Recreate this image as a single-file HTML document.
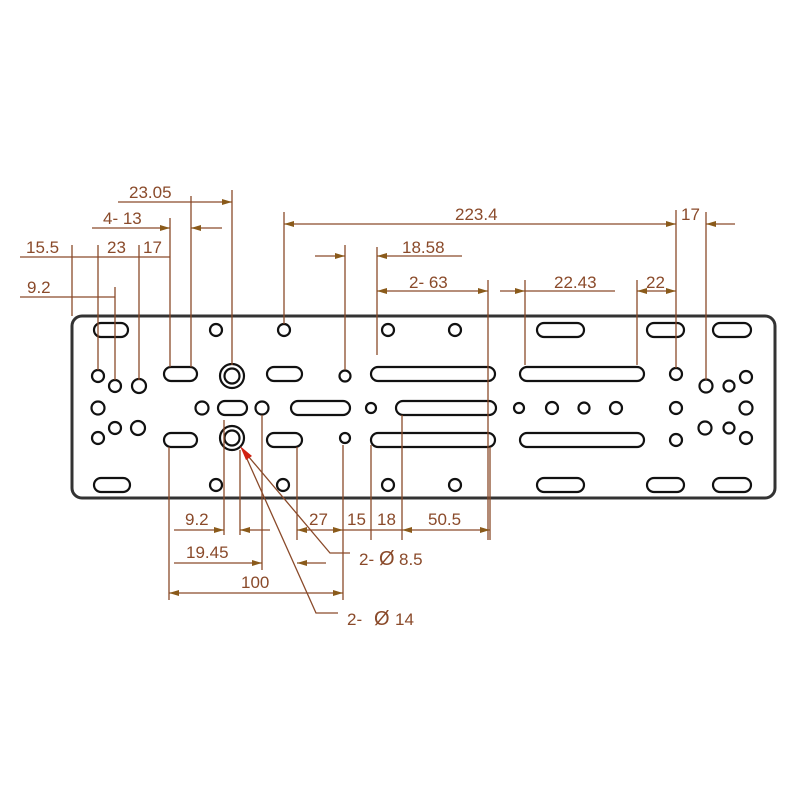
<!DOCTYPE html>
<html><head><meta charset="utf-8"><style>
html,body{margin:0;padding:0;background:#fff;width:800px;height:800px;overflow:hidden}
svg text{font-family:"Liberation Sans",sans-serif;fill:#8a4a2a;font-size:17px}
</style></head><body>
<svg width="800" height="800" viewBox="0 0 800 800" xmlns="http://www.w3.org/2000/svg">
<defs>
<marker id="a" viewBox="0 0 10 6" refX="10" refY="3" markerWidth="12" markerHeight="6" orient="auto-start-reverse" markerUnits="userSpaceOnUse"><path d="M0,0L10,3L0,6z" fill="#8a5a1a"/></marker>
</defs>
<rect x="72" y="316" width="703" height="182" rx="10" fill="none" stroke="#333" stroke-width="3"/>
<g fill="none" stroke="#111" stroke-width="2.2">
<rect x="94" y="323" width="34" height="14" rx="7"/>
<circle cx="216" cy="330" r="6"/><circle cx="284" cy="330" r="6"/>
<circle cx="388" cy="330" r="6"/><circle cx="455" cy="330" r="6"/>
<rect x="537" y="323" width="47" height="14" rx="7"/>
<rect x="647" y="323" width="37" height="14" rx="7"/>
<rect x="713" y="323" width="38" height="14" rx="7"/>
<circle cx="98" cy="376" r="6"/><circle cx="115" cy="386" r="6"/><circle cx="139" cy="386" r="7"/>
<rect x="164" y="367" width="33" height="14" rx="7"/>
<circle cx="232" cy="376" r="12"/><circle cx="232" cy="376" r="7.5"/>
<rect x="267" y="367" width="35" height="14" rx="7"/>
<circle cx="345" cy="376" r="5.5"/>
<rect x="371" y="367" width="124" height="14" rx="7"/>
<rect x="520" y="367" width="124" height="14" rx="7"/>
<circle cx="676" cy="374" r="6"/><circle cx="706" cy="386" r="6.5"/><circle cx="729" cy="386" r="5.5"/><circle cx="746" cy="377" r="6"/>
<circle cx="98" cy="408" r="6.5"/>
<circle cx="202" cy="408" r="6.5"/>
<rect x="218" y="401" width="29" height="14" rx="7"/>
<circle cx="262" cy="408" r="6.5"/>
<rect x="291" y="401" width="59" height="14" rx="7"/>
<circle cx="371" cy="408" r="5"/>
<rect x="396" y="401" width="100" height="14" rx="7"/>
<circle cx="519" cy="408" r="5"/><circle cx="552" cy="408" r="6"/><circle cx="584" cy="408" r="5.5"/><circle cx="616" cy="408" r="6"/>
<circle cx="676" cy="408" r="6"/><circle cx="746" cy="408" r="6.5"/>
<circle cx="98" cy="438" r="6"/><circle cx="115" cy="428" r="6"/><circle cx="138" cy="428" r="7"/>
<rect x="164" y="433" width="33" height="14" rx="7"/>
<circle cx="232" cy="438" r="12"/><circle cx="232" cy="438" r="7.5"/>
<rect x="267" y="433" width="35" height="14" rx="7"/>
<circle cx="345" cy="438" r="5"/>
<rect x="371" y="433" width="124" height="14" rx="7"/>
<rect x="520" y="433" width="124" height="14" rx="7"/>
<circle cx="676" cy="440" r="6"/><circle cx="705" cy="428" r="6.5"/><circle cx="729" cy="428" r="5.5"/><circle cx="746" cy="438" r="6"/>
<rect x="94" y="478" width="36" height="14" rx="7"/>
<circle cx="216" cy="485" r="6"/><circle cx="283" cy="485" r="6"/>
<circle cx="388" cy="485" r="6"/><circle cx="455" cy="485" r="6"/>
<rect x="537" y="478" width="47" height="14" rx="7"/>
<rect x="647" y="478" width="37" height="14" rx="7"/>
<rect x="713" y="478" width="38" height="14" rx="7"/>
</g>
<g stroke="#8a4a2a" stroke-width="1.3" fill="none">
<line x1="72" y1="245" x2="72" y2="316"/>
<line x1="98" y1="245" x2="98" y2="370"/>
<line x1="115" y1="287" x2="115" y2="380"/>
<line x1="139" y1="245" x2="139" y2="380"/>
<line x1="170" y1="218" x2="170" y2="367"/>
<line x1="191" y1="196" x2="191" y2="367"/>
<line x1="232" y1="190" x2="232" y2="365"/>
<line x1="284" y1="212" x2="284" y2="324"/>
<line x1="345" y1="245" x2="345" y2="370"/>
<line x1="377" y1="247" x2="377" y2="355"/>
<line x1="488" y1="280" x2="488" y2="540"/>
<line x1="525" y1="280" x2="525" y2="365"/>
<line x1="637" y1="280" x2="637" y2="365"/>
<line x1="676" y1="210" x2="676" y2="368"/>
<line x1="706" y1="212" x2="706" y2="380"/>
<line x1="118" y1="202" x2="191" y2="202"/>
<line x1="191" y1="202" x2="232" y2="202" marker-end="url(#a)"/>
<line x1="92" y1="228" x2="170" y2="228" marker-end="url(#a)"/>
<line x1="222" y1="228" x2="191" y2="228" marker-end="url(#a)"/>
<line x1="20" y1="257" x2="170" y2="257"/>
<line x1="20" y1="297" x2="115" y2="297"/>
<line x1="284" y1="224" x2="676" y2="224" marker-start="url(#a)" marker-end="url(#a)"/>
<line x1="735" y1="224" x2="706" y2="224" marker-end="url(#a)"/>
<line x1="462" y1="256" x2="377" y2="256" marker-end="url(#a)"/>
<line x1="315" y1="256" x2="345" y2="256" marker-end="url(#a)"/>
<line x1="377" y1="291" x2="488" y2="291" marker-start="url(#a)" marker-end="url(#a)"/>
<line x1="500" y1="291" x2="525" y2="291" marker-end="url(#a)"/>
<line x1="525" y1="291" x2="615" y2="291"/>
<line x1="637" y1="291" x2="676" y2="291" marker-start="url(#a)" marker-end="url(#a)"/>
<line x1="169" y1="447" x2="169" y2="600"/>
<line x1="224" y1="420" x2="224" y2="535"/>
<line x1="240" y1="450" x2="240" y2="535"/>
<line x1="262" y1="415" x2="262" y2="570"/>
<line x1="297" y1="447" x2="297" y2="540"/>
<line x1="343" y1="445" x2="343" y2="600"/>
<line x1="371" y1="445" x2="371" y2="540"/>
<line x1="402" y1="415" x2="402" y2="540"/>
<line x1="490" y1="447" x2="490" y2="540"/>
<line x1="174" y1="530" x2="224" y2="530" marker-end="url(#a)"/>
<line x1="270" y1="530" x2="240" y2="530" marker-end="url(#a)"/>
<line x1="297" y1="530" x2="343" y2="530" marker-start="url(#a)" marker-end="url(#a)"/>
<line x1="343" y1="530" x2="402" y2="530"/>
<line x1="402" y1="530" x2="490" y2="530" marker-start="url(#a)" marker-end="url(#a)"/>
<line x1="174" y1="563" x2="262" y2="563" marker-end="url(#a)"/>
<line x1="326" y1="563" x2="297" y2="563" marker-end="url(#a)"/>
<line x1="169" y1="593" x2="343" y2="593" marker-start="url(#a)" marker-end="url(#a)"/>
<polyline points="243,450 330,553 350,553"/>
<polyline points="243,450 316,613 338,613"/>
</g>
<path d="M240,446 L252,456 L246,460 z" fill="#d02010"/>
<text x="129" y="198">23.05</text>
<text x="103" y="224">4- 13</text>
<text x="26" y="253">15.5</text>
<text x="107" y="253">23</text>
<text x="143" y="253">17</text>
<text x="27" y="293">9.2</text>
<text x="455" y="220">223.4</text>
<text x="681" y="220">17</text>
<text x="402" y="253">18.58</text>
<text x="409" y="288">2- 63</text>
<text x="554" y="288">22.43</text>
<text x="646" y="288">22</text>
<text x="185" y="525">9.2</text>
<text x="309" y="525">27</text>
<text x="347" y="525">15</text>
<text x="377" y="525">18</text>
<text x="428" y="525">50.5</text>
<text x="186" y="558">19.45</text>
<text x="241" y="588">100</text>
<text x="359" y="565">2-</text><text x="379" y="565" style="font-size:20px">Ø</text><text x="399" y="565">8.5</text>
<text x="347" y="625">2-</text><text x="374" y="625" style="font-size:20px">Ø</text><text x="395" y="625">14</text>
</svg>
</body></html>
